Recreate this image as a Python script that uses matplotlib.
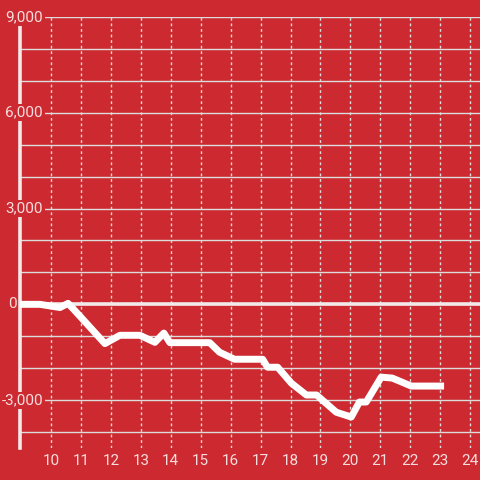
import matplotlib
matplotlib.use("Agg")
import matplotlib.pyplot as plt
import numpy as np

# data
hours = [8.97, 9.63, 10.3, 10.57, 10.8, 11.8, 12.3, 12.97, 13.47, 13.77, 13.97, 15.3, 15.63,
         16.13, 17.07, 17.23, 17.57, 18.03, 18.53, 18.87, 19.53, 20.03, 20.3, 20.53,
         21.03, 21.4, 21.73, 22.03, 23.13]
values = [0, 0, -100, 30, -200, -1230, -970, -970, -1190, -900, -1200, -1200, -1500,
          -1720, -1720, -1970, -1970, -2470, -2840, -2840, -3380, -3530, -3060, -3060,
          -2280, -2310, -2440, -2560, -2560]
x_ticks = list(range(10, 25))
y_labeled = [-3000, 0, 3000, 6000, 9000]
y_labels = ["-3,000", "0", "3,000", "6,000", "9,000"]
y_grid = list(range(-4000, 9001, 1000))

BG = "#cc2a30"
GRID = "#dcdcdc"
TXT = "#f6dede"

fig = plt.figure(figsize=(4.8, 4.8), dpi=100, facecolor=BG)
ax = fig.add_axes([20/480, 1-448/480, 460/480, (448-17)/480])
ax.set_facecolor(BG)
ax.set_xlim(8.964, 24.33)
ax.set_ylim(-4500, 9000)

for y in y_grid:
    ax.axhline(y, color=GRID, lw=1, zorder=1)
for x in x_ticks:
    ax.axvline(x, color=GRID, lw=1, ls=(0, (2, 2)), zorder=1)
ax.axhline(0, color="#f2eaea", lw=2.6, zorder=2)

ax.plot(hours, values, color="white", lw=5, solid_joinstyle="round",
        solid_capstyle="butt", zorder=3)

for s in ["top", "right", "bottom"]:
    ax.spines[s].set_visible(False)
ax.spines["left"].set_color("#f2eaea")
ax.spines["left"].set_linewidth(2.6)
ax.spines["left"].set_zorder(2)

ax.set_xticks(x_ticks)
ax.set_xticklabels([str(t) for t in x_ticks])
ax.tick_params(axis="x", length=0, pad=4, labelcolor=TXT, labelsize=11)
ax.set_yticks([])
for lab in ax.get_xticklabels():
    lab.set_fontfamily("Roboto")

for y, lab in zip(y_labeled, y_labels):
    if lab == "0":
        ax.text((8-20)/460, y, lab, transform=ax.get_yaxis_transform(),
                ha="left", va="center", color=TXT, fontsize=11, family="Roboto",
                zorder=5, clip_on=False)
    else:
        ax.text((43-20)/460, y, lab, transform=ax.get_yaxis_transform(),
                ha="right", va="center", color=TXT, fontsize=11, family="Roboto",
                zorder=5, clip_on=False,
                bbox=dict(boxstyle="square,pad=0.1", fc=BG, ec="none"))

fig.savefig("out.png", dpi=100, facecolor=BG)
